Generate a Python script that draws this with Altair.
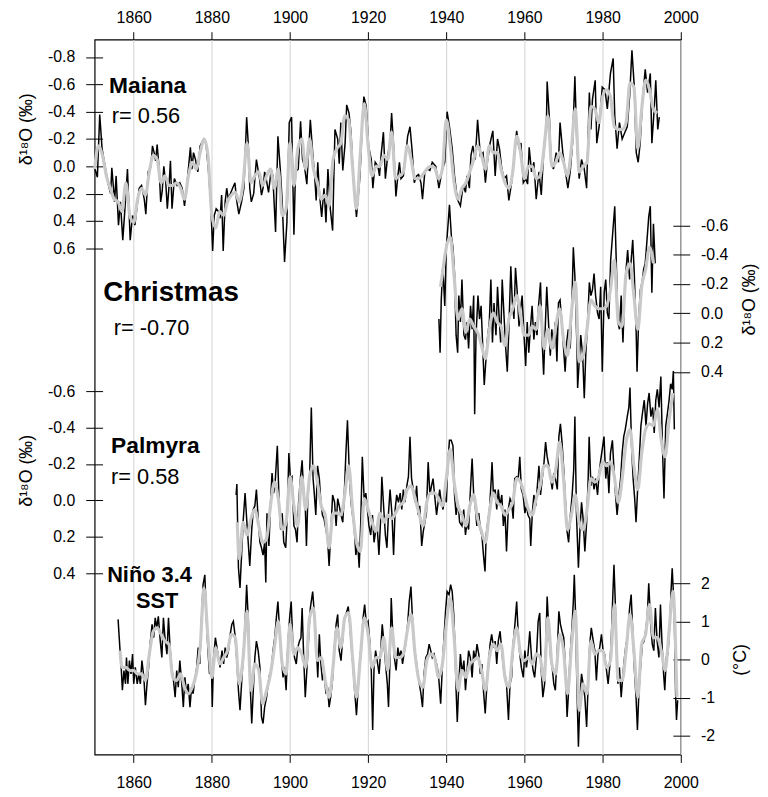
import altair as alt
import pandas as pd

# ---------------- data (year, value) ----------------
YEAR_TICKS = [1860, 1880, 1900, 1920, 1940, 1960, 1980, 2000]
D18O_TICKS_MAIANA = [-0.8, -0.6, -0.4, -0.2, 0.0, 0.2, 0.4, 0.6]
D18O_TICKS_CHRISTMAS = [-0.6, -0.4, -0.2, 0.0, 0.2, 0.4]
D18O_TICKS_PALMYRA = [-0.6, -0.4, -0.2, 0.0, 0.2, 0.4]
SST_TICKS = [2, 1, 0, -1, -2]

MAIANA_RAW = [
    (1850.0, 0.01), (1850.7, 0.08), (1851.3, -0.38), (1851.9, -0.13), (1852.5, -0.03), (1853.4, 0.12),
    (1854.1, 0.20), (1854.4, 0.01), (1855.1, 0.26), (1855.5, 0.07), (1856.1, 0.43), (1856.6, 0.26),
    (1857.2, 0.54), (1857.8, 0.29), (1858.4, 0.02), (1859.1, 0.54), (1859.7, 0.36), (1860.3, 0.43),
    (1861.4, 0.16), (1862.0, 0.14), (1862.7, 0.24), (1863.1, 0.35), (1863.7, 0.04), (1864.4, 0.00),
    (1864.8, -0.15), (1865.4, -0.08), (1865.6, -0.04), (1866.0, -0.16), (1866.5, 0.02), (1866.9, 0.26),
    (1867.3, 0.18), (1867.7, 0.00), (1868.2, 0.12), (1868.6, 0.31), (1869.0, 0.16), (1869.4, -0.04),
    (1869.8, 0.31), (1870.4, 0.09), (1871.1, 0.14), (1871.8, 0.12), (1872.4, 0.16), (1873.0, 0.29),
    (1873.6, 0.14), (1874.5, -0.14), (1874.9, 0.02), (1875.3, -0.10), (1875.8, -0.05), (1876.4, 0.04),
    (1877.0, -0.15), (1877.9, -0.20), (1878.5, -0.17), (1879.1, 0.02), (1879.7, 0.26), (1880.2, 0.62),
    (1880.6, 0.36), (1881.1, 0.31), (1881.7, 0.33), (1882.1, 0.38), (1882.5, 0.21), (1882.9, 0.62),
    (1883.4, 0.26), (1883.8, 0.16), (1884.2, 0.24), (1884.6, 0.21), (1885.3, 0.16), (1885.9, 0.12),
    (1886.3, 0.24), (1886.9, 0.35), (1887.6, 0.26), (1888.2, 0.16), (1888.9, -0.36), (1889.3, -0.17),
    (1889.7, 0.16), (1890.1, 0.26), (1890.7, 0.20), (1891.4, -0.05), (1891.8, 0.02), (1892.2, 0.09),
    (1892.7, 0.21), (1893.1, 0.16), (1893.5, 0.04), (1893.9, 0.09), (1894.5, 0.19), (1895.2, 0.02),
    (1895.6, 0.07), (1896.3, 0.48), (1896.9, -0.22), (1897.5, 0.02), (1898.0, 0.26), (1898.6, 0.70),
    (1899.2, 0.41), (1899.8, -0.32), (1900.4, -0.36), (1901.0, 0.50), (1901.4, 0.04), (1902.1, 0.02),
    (1902.7, -0.33), (1903.2, -0.05), (1903.7, 0.00), (1904.3, 0.13), (1905.2, -0.34), (1905.8, -0.10),
    (1906.3, 0.07), (1906.7, 0.25), (1907.1, -0.03), (1907.5, 0.19), (1908.1, 0.37), (1908.7, 0.16),
    (1909.2, 0.41), (1909.7, 0.02), (1910.3, 0.31), (1910.9, 0.47), (1911.5, -0.27), (1912.2, -0.20),
    (1912.6, -0.02), (1913.0, -0.32), (1913.5, 0.03), (1914.1, -0.17), (1914.5, -0.45), (1915.1, -0.39),
    (1915.6, -0.25), (1916.2, 0.09), (1917.0, 0.37), (1917.9, 0.07), (1918.5, -0.32), (1918.9, -0.51),
    (1919.5, -0.44), (1920.1, -0.15), (1920.8, -0.05), (1921.2, 0.16), (1921.8, -0.03), (1922.5, 0.00),
    (1922.9, 0.07), (1923.3, -0.08), (1923.9, -0.25), (1924.4, 0.09), (1925.0, -0.08), (1925.6, -0.17),
    (1926.0, -0.39), (1926.6, -0.10), (1927.1, 0.22), (1927.6, 0.07), (1928.0, -0.03), (1928.4, 0.09),
    (1929.0, 0.07), (1929.5, -0.05), (1930.1, -0.22), (1930.7, -0.29), (1931.2, -0.13), (1931.8, 0.12),
    (1932.4, 0.07), (1932.9, 0.06), (1933.5, 0.12), (1933.9, 0.24), (1934.5, 0.04), (1935.2, 0.02),
    (1935.8, 0.03), (1936.4, -0.03), (1937.3, 0.00), (1938.1, 0.16), (1939.0, 0.02), (1939.6, -0.03),
    (1940.2, -0.40), (1940.8, -0.29), (1941.5, -0.13), (1942.1, 0.07), (1942.8, 0.24), (1943.6, 0.29),
    (1944.3, 0.14), (1944.9, 0.19), (1945.3, 0.07), (1945.9, 0.16), (1946.3, -0.08), (1946.8, -0.15),
    (1947.4, -0.05), (1948.0, -0.34), (1948.7, -0.08), (1949.4, -0.10), (1950.0, 0.12), (1950.5, -0.03),
    (1951.2, -0.17), (1951.9, -0.26), (1952.5, 0.07), (1953.1, -0.20), (1953.6, -0.13), (1954.2, 0.02),
    (1954.8, 0.09), (1955.4, 0.07), (1956.0, 0.25), (1956.7, 0.12), (1957.3, -0.05), (1958.0, -0.26),
    (1958.6, -0.13), (1959.1, -0.17), (1959.7, 0.12), (1960.3, 0.09), (1960.8, 0.13), (1961.2, -0.14),
    (1961.8, 0.04), (1962.4, -0.03), (1963.0, 0.24), (1963.7, 0.04), (1964.3, 0.21), (1965.0, -0.15),
    (1965.6, -0.29), (1965.8, -0.62), (1966.4, -0.34), (1966.8, -0.03), (1967.4, 0.02), (1968.1, -0.10),
    (1968.7, -0.03), (1969.1, -0.32), (1969.8, -0.10), (1970.5, 0.04), (1971.1, 0.16), (1971.7, 0.04),
    (1972.3, -0.17), (1972.9, -0.66), (1973.4, -0.17), (1974.0, 0.09), (1974.6, -0.05), (1975.3, 0.02),
    (1975.9, 0.16), (1976.6, -0.54), (1977.0, -0.27), (1977.4, -0.49), (1978.1, -0.63), (1978.5, -0.17),
    (1979.1, -0.29), (1979.9, -0.58), (1980.6, -0.56), (1981.2, -0.42), (1982.0, -0.68), (1982.7, -0.79),
    (1983.1, -0.37), (1983.7, -0.13), (1984.3, -0.32), (1985.0, -0.20), (1985.7, -0.25), (1986.3, -0.29),
    (1986.9, -0.51), (1987.5, -0.85), (1988.1, -0.58), (1988.6, -0.10), (1989.1, -0.03), (1989.6, -0.17),
    (1990.2, -0.49), (1990.9, -0.71), (1991.5, -0.54), (1992.2, -0.68), (1992.6, -0.17), (1993.2, -0.42),
    (1993.6, -0.63), (1994.1, -0.27), (1994.5, -0.36),
]

MAIANA_SMOOTH = [
    (1850, 0.02), (1851, -0.15), (1852, -0.08), (1853, 0.07), (1854, 0.16), (1855, 0.24), (1856, 0.26),
    (1857, 0.33), (1858, 0.12), (1859, 0.36), (1860, 0.41), (1861, 0.24), (1862, 0.16), (1863, 0.21),
    (1864, 0.04), (1865, -0.08), (1866, -0.05), (1867, 0.12), (1868, 0.07), (1869, 0.14), (1870, 0.14),
    (1871, 0.12), (1872, 0.16), (1873, 0.24), (1874, 0.07), (1875, -0.03), (1876, 0.02), (1877, -0.10),
    (1878, -0.20), (1879, -0.08), (1880, 0.36), (1881, 0.45), (1882, 0.33), (1883, 0.36), (1884, 0.26),
    (1885, 0.21), (1886, 0.19), (1887, 0.26), (1888, 0.12), (1889, -0.17), (1890, 0.12), (1891, 0.07),
    (1892, 0.04), (1893, 0.14), (1894, 0.07), (1895, 0.02), (1896, 0.16), (1897, 0.02), (1898, 0.36),
    (1899, 0.31), (1900, -0.17), (1901, 0.14), (1902, -0.13), (1903, -0.20), (1904, 0.02), (1905, -0.20),
    (1906, 0.02), (1907, 0.12), (1908, 0.24), (1909, 0.21), (1910, 0.29), (1911, -0.05), (1912, -0.13),
    (1913, -0.17), (1914, -0.37), (1915, -0.34), (1916, 0.00), (1917, 0.31), (1918, -0.10), (1919, -0.46),
    (1920, -0.15), (1921, 0.07), (1922, 0.00), (1923, 0.00), (1924, -0.08), (1925, -0.05), (1926, -0.25),
    (1927, 0.09), (1928, 0.07), (1929, 0.04), (1930, -0.15), (1931, -0.05), (1932, 0.09), (1933, 0.09),
    (1934, 0.06), (1935, 0.02), (1936, 0.00), (1937, 0.01), (1938, 0.09), (1939, 0.02), (1940, -0.34),
    (1941, -0.15), (1942, 0.12), (1943, 0.24), (1944, 0.16), (1945, 0.12), (1946, 0.04), (1947, -0.05),
    (1948, -0.15), (1949, -0.08), (1950, 0.02), (1951, -0.15), (1952, -0.10), (1953, -0.10), (1954, 0.02),
    (1955, 0.12), (1956, 0.16), (1957, 0.04), (1958, -0.22), (1959, -0.10), (1960, 0.09), (1961, 0.00),
    (1962, 0.00), (1963, 0.09), (1964, 0.07), (1965, -0.13), (1966, -0.37), (1967, 0.00), (1968, -0.03),
    (1969, -0.10), (1970, -0.03), (1971, 0.07), (1972, -0.13), (1973, -0.42), (1974, 0.04), (1975, 0.00),
    (1976, -0.03), (1977, -0.44), (1978, -0.42), (1979, -0.32), (1980, -0.51), (1981, -0.56), (1982, -0.51),
    (1983, -0.29), (1984, -0.27), (1985, -0.27), (1986, -0.32), (1987, -0.61), (1988, -0.58), (1989, -0.13),
    (1990, -0.42), (1991, -0.63), (1992, -0.56), (1993, -0.42), (1994, -0.39),
]

CHRISTMAS_RAW = [
    (1938.1, 0.04), (1938.4, 0.27), (1938.7, -0.09), (1939.1, -0.32), (1939.6, -0.05), (1940.0, -0.45),
    (1940.4, -0.59), (1940.8, -0.74), (1941.3, -0.52), (1941.7, -0.45), (1942.1, -0.27), (1942.5, 0.15),
    (1942.9, 0.27), (1943.2, -0.12), (1943.6, 0.06), (1944.0, -0.23), (1944.5, 0.15), (1944.9, 0.18),
    (1945.3, 0.06), (1945.7, 0.24), (1946.2, -0.05), (1946.6, 0.11), (1947.0, -0.12), (1947.25, 0.69),
    (1947.6, 0.15), (1948.1, -0.12), (1948.5, 0.04), (1948.9, -0.05), (1949.3, 0.22), (1949.7, 0.49),
    (1950.1, 0.33), (1950.5, 0.18), (1951.0, 0.06), (1951.4, -0.23), (1951.8, 0.20), (1952.2, -0.07),
    (1952.7, 0.15), (1953.1, -0.18), (1953.5, 0.02), (1953.9, 0.20), (1954.3, -0.23), (1954.8, 0.04),
    (1955.2, 0.24), (1955.6, 0.40), (1956.0, 0.11), (1956.5, -0.32), (1956.9, -0.07), (1957.3, 0.04),
    (1957.7, -0.31), (1958.1, -0.16), (1958.6, 0.09), (1959.0, -0.03), (1959.4, -0.12), (1959.8, 0.11),
    (1960.3, 0.36), (1960.7, 0.06), (1961.1, 0.27), (1961.5, 0.11), (1961.95, -0.05), (1962.4, 0.18),
    (1962.8, 0.06), (1963.2, 0.15), (1963.6, -0.05), (1964.1, -0.21), (1964.5, 0.18), (1964.9, 0.42),
    (1965.3, 0.11), (1965.7, -0.18), (1966.2, 0.09), (1966.6, 0.29), (1967.0, 0.11), (1967.4, 0.24),
    (1967.9, 0.06), (1968.3, 0.33), (1968.7, -0.07), (1969.1, -0.09), (1969.5, 0.04), (1970.0, 0.24),
    (1970.4, 0.40), (1970.8, 0.20), (1971.2, 0.11), (1971.7, 0.24), (1972.1, -0.03), (1972.5, -0.45),
    (1972.9, -0.25), (1973.4, 0.20), (1973.6, 0.51), (1974.0, 0.33), (1974.4, 0.15), (1974.9, 0.29),
    (1975.3, 0.58), (1975.7, 0.27), (1976.1, 0.09), (1976.6, -0.21), (1977.0, -0.12), (1977.4, -0.16),
    (1977.8, -0.27), (1978.2, -0.12), (1978.7, 0.00), (1979.1, 0.04), (1979.5, -0.18), (1979.9, 0.40),
    (1980.4, -0.14), (1980.8, -0.23), (1981.2, 0.00), (1981.6, 0.04), (1982.05, -0.36), (1982.5, -0.52),
    (1983.1, -0.73), (1983.5, -0.34), (1983.9, 0.06), (1984.3, 0.11), (1984.75, -0.12), (1985.2, 0.20),
    (1985.6, -0.12), (1986.0, -0.30), (1986.4, -0.43), (1986.9, -0.23), (1987.3, -0.36), (1987.7, -0.50),
    (1988.1, -0.27), (1988.6, 0.15), (1988.8, 0.40), (1989.2, 0.06), (1989.65, -0.16), (1990.1, -0.21),
    (1990.5, -0.30), (1990.9, -0.34), (1991.3, -0.48), (1991.8, -0.66), (1992.2, -0.73), (1992.6, -0.14),
    (1993.0, -0.61), (1993.45, -0.34),
]

CHRISTMAS_SMOOTH = [
    (1938.5, -0.18), (1939, -0.27), (1940, -0.45), (1941, -0.52), (1942, -0.25), (1943, 0.04),
    (1944, -0.03), (1945, 0.13), (1946, 0.04), (1947, 0.09), (1948, 0.13), (1949, 0.22), (1950, 0.31),
    (1951, 0.11), (1952, 0.00), (1953, 0.06), (1954, 0.09), (1955, 0.22), (1956, 0.04), (1957, -0.03),
    (1958, -0.12), (1959, 0.02), (1960, 0.15), (1961, 0.15), (1962, 0.09), (1963, 0.11), (1964, -0.05),
    (1965, 0.24), (1966, 0.11), (1967, 0.24), (1968, 0.09), (1969, -0.03), (1970, 0.18), (1971, 0.29),
    (1972, 0.00), (1973, -0.21), (1974, 0.33), (1975, 0.29), (1976, 0.11), (1977, -0.09), (1978, -0.05),
    (1979, -0.03), (1980, -0.03), (1981, -0.05), (1982, -0.16), (1983, -0.36), (1984, 0.06), (1985, 0.09),
    (1986, -0.27), (1987, -0.34), (1988, -0.12), (1989, 0.11), (1990, -0.18), (1991, -0.30), (1992, -0.45),
    (1993, -0.34),
]

PALMYRA_RAW = [
    (1886.2, -0.03), (1886.4, -0.09), (1886.8, 0.37), (1887.2, 0.48), (1887.6, 0.30), (1888.05, 0.10),
    (1888.5, -0.04), (1888.9, 0.10), (1889.3, 0.23), (1889.7, 0.36), (1890.2, 0.16), (1890.6, 0.05),
    (1891.0, 0.03), (1891.4, -0.06), (1891.85, 0.10), (1892.3, 0.23), (1892.7, 0.26), (1893.1, 0.30),
    (1893.5, 0.23), (1893.8, 0.45), (1894.1, 0.07), (1894.6, 0.25), (1895.1, -0.03), (1895.4, -0.15),
    (1895.8, -0.04), (1896.2, -0.10), (1896.75, -0.30), (1897.2, 0.01), (1897.6, 0.16), (1898.0, 0.07),
    (1898.4, 0.23), (1898.9, 0.26), (1899.3, 0.08), (1899.7, -0.26), (1900.1, -0.12), (1900.5, -0.13),
    (1901.0, 0.14), (1901.4, 0.16), (1901.8, 0.23), (1902.2, 0.01), (1902.7, -0.13), (1903.1, -0.22),
    (1903.5, -0.03), (1903.9, 0.03), (1904.2, 0.25), (1904.6, -0.04), (1905.0, -0.12), (1905.45, -0.51),
    (1905.9, -0.12), (1906.2, -0.04), (1906.6, 0.08), (1907.05, -0.19), (1907.5, -0.12), (1907.9, 0.01),
    (1908.3, 0.08), (1908.7, 0.10), (1909.2, 0.16), (1909.6, 0.21), (1910.0, 0.36), (1910.4, 0.19),
    (1910.9, -0.03), (1911.4, 0.01), (1911.8, 0.14), (1912.2, -0.01), (1912.6, 0.03), (1913.05, 0.08),
    (1913.5, 0.12), (1913.9, -0.04), (1914.3, -0.26), (1914.7, -0.44), (1915.2, -0.13), (1915.6, 0.01),
    (1916.0, 0.08), (1916.4, 0.14), (1916.85, 0.30), (1917.3, 0.23), (1917.7, 0.37), (1918.1, 0.12),
    (1918.5, -0.24), (1919.0, 0.01), (1919.4, -0.04), (1919.8, 0.05), (1920.2, 0.14), (1920.65, 0.19),
    (1921.1, 0.08), (1921.5, 0.23), (1921.9, 0.17), (1922.3, 0.14), (1922.75, 0.30), (1923.2, 0.10),
    (1923.5, -0.13), (1924.0, 0.05), (1924.4, 0.19), (1924.8, 0.26), (1925.2, 0.07), (1925.6, -0.06),
    (1926.1, 0.08), (1926.5, 0.30), (1926.9, 0.05), (1927.3, -0.03), (1927.75, 0.01), (1928.2, -0.04),
    (1928.6, 0.05), (1929.0, -0.06), (1929.4, 0.01), (1929.9, -0.08), (1930.3, -0.13), (1930.7, -0.35),
    (1931.1, -0.12), (1931.55, -0.06), (1932.0, 0.01), (1932.4, -0.08), (1932.8, 0.08), (1933.2, 0.03),
    (1933.7, 0.25), (1934.1, 0.17), (1934.5, 0.12), (1934.9, 0.07), (1935.35, -0.21), (1935.8, -0.03),
    (1936.2, -0.08), (1936.6, -0.12), (1937.0, -0.03), (1937.5, 0.08), (1937.9, 0.01), (1938.3, -0.06),
    (1938.7, 0.01), (1939.15, 0.05), (1939.6, -0.03), (1940.0, 0.01), (1940.4, -0.21), (1940.8, -0.33),
    (1941.25, -0.33), (1941.7, -0.30), (1942.1, -0.03), (1942.5, 0.08), (1943.0, 0.01), (1943.4, 0.12),
    (1944.0, 0.14), (1944.45, 0.05), (1944.9, 0.19), (1945.3, 0.12), (1945.7, 0.16), (1946.1, -0.03),
    (1946.6, -0.23), (1947.0, -0.03), (1947.4, 0.03), (1947.8, 0.14), (1948.3, 0.07), (1948.7, 0.16),
    (1949.1, 0.19), (1949.5, 0.30), (1949.9, 0.39), (1950.2, 0.19), (1950.6, 0.12), (1951.05, 0.05),
    (1951.5, -0.12), (1951.7, -0.21), (1952.05, -0.03), (1952.5, -0.06), (1952.9, 0.05), (1953.3, -0.06),
    (1953.7, 0.03), (1954.2, -0.03), (1954.6, 0.14), (1955.0, 0.05), (1955.4, 0.28), (1955.85, 0.05),
    (1956.3, -0.01), (1956.7, 0.01), (1957.1, 0.10), (1957.5, -0.12), (1958.0, -0.13), (1958.4, -0.12),
    (1958.8, -0.24), (1959.2, -0.06), (1959.65, -0.03), (1960.1, 0.07), (1960.5, 0.03), (1960.9, 0.08),
    (1961.35, 0.10), (1961.6, 0.25), (1962.0, 0.07), (1962.4, -0.03), (1962.9, 0.03), (1963.3, -0.08),
    (1963.7, -0.19), (1964.1, -0.03), (1964.55, -0.12), (1965.0, -0.21), (1965.4, -0.32), (1965.8, -0.24),
    (1966.25, -0.19), (1966.7, -0.12), (1967.1, -0.06), (1967.5, -0.15), (1967.9, -0.12), (1968.4, -0.06),
    (1968.8, -0.35), (1969.2, -0.42), (1969.6, -0.32), (1970.05, -0.17), (1970.5, 0.01), (1970.9, 0.17),
    (1971.3, 0.23), (1971.75, 0.08), (1972.2, -0.03), (1972.6, -0.17), (1972.9, -0.46), (1973.3, 0.07),
    (1973.8, 0.37), (1974.2, 0.16), (1974.6, 0.01), (1975.0, 0.10), (1975.45, 0.28), (1975.9, 0.12),
    (1976.3, -0.12), (1976.55, -0.35), (1977.0, -0.08), (1977.4, -0.13), (1977.8, -0.06), (1978.2, -0.12),
    (1978.7, -0.03), (1979.1, -0.15), (1979.5, -0.22), (1979.9, -0.28), (1980.35, -0.35), (1980.8, -0.12),
    (1981.2, -0.21), (1981.6, -0.04), (1982.0, -0.26), (1982.5, -0.33), (1982.9, -0.17), (1983.3, -0.03),
    (1983.7, 0.08), (1984.15, -0.03), (1984.6, -0.12), (1985.0, -0.26), (1985.4, -0.35), (1985.8, -0.39),
    (1986.3, -0.46), (1986.7, -0.51), (1987.0, -0.62), (1987.4, -0.30), (1987.8, -0.12), (1988.2, -0.01),
    (1988.55, 0.12), (1989.0, -0.08), (1989.4, -0.24), (1989.8, -0.41), (1990.2, -0.48), (1990.65, -0.55),
    (1991.1, -0.41), (1991.5, -0.53), (1991.9, -0.59), (1992.35, -0.46), (1992.8, -0.51), (1993.2, -0.37),
    (1993.6, -0.55), (1994.0, -0.61), (1994.45, -0.51), (1994.9, -0.68), (1995.3, -0.30), (1995.7, -0.01),
    (1996.15, -0.41), (1996.6, -0.48), (1997.0, -0.55), (1997.4, -0.64), (1997.8, -0.61), (1998.1, -0.71),
    (1998.35, -0.39),
]

PALMYRA_SMOOTH = [
    (1886.5, 0.12), (1887, 0.32), (1888, 0.12), (1889, 0.19), (1890, 0.10), (1891, 0.05), (1892, 0.14),
    (1893, 0.23), (1894, 0.21), (1895, 0.03), (1896, -0.10), (1897, -0.01), (1898, 0.16), (1899, 0.12),
    (1900, -0.13), (1901, 0.03), (1902, 0.14), (1903, -0.13), (1904, 0.05), (1905, -0.13), (1906, -0.19),
    (1907, -0.10), (1908, 0.03), (1909, 0.08), (1910, 0.26), (1911, 0.07), (1912, 0.07), (1913, 0.08),
    (1914, -0.03), (1915, -0.19), (1916, 0.05), (1917, 0.23), (1918, 0.28), (1919, -0.01), (1920, 0.05),
    (1921, 0.12), (1922, 0.17), (1923, 0.07), (1924, 0.12), (1925, 0.08), (1926, 0.10), (1927, 0.07),
    (1928, 0.03), (1929, 0.01), (1930, -0.06), (1931, -0.08), (1932, -0.01), (1933, 0.07), (1934, 0.14),
    (1935, 0.01), (1936, -0.04), (1937, -0.04), (1938, -0.01), (1939, 0.03), (1940, -0.12), (1941, -0.28),
    (1942, -0.10), (1943, 0.03), (1944, 0.08), (1945, 0.14), (1946, 0.03), (1947, -0.03), (1948, 0.10),
    (1949, 0.17), (1950, 0.23), (1951, 0.07), (1952, -0.04), (1953, 0.01), (1954, 0.03), (1955, 0.08),
    (1956, 0.05), (1957, 0.01), (1958, -0.12), (1959, -0.10), (1960, -0.03), (1961, 0.05), (1962, 0.08),
    (1963, -0.01), (1964, -0.08), (1965, -0.19), (1966, -0.19), (1967, -0.10), (1968, -0.17), (1969, -0.32),
    (1970, -0.12), (1971, 0.16), (1972, 0.08), (1973, -0.03), (1974, 0.12), (1975, 0.16), (1976, 0.05),
    (1977, -0.12), (1978, -0.10), (1979, -0.13), (1980, -0.21), (1981, -0.19), (1982, -0.21), (1983, -0.13),
    (1984, 0.01), (1985, -0.12), (1986, -0.32), (1987, -0.39), (1988, -0.19), (1989, -0.06), (1990, -0.26),
    (1991, -0.39), (1992, -0.42), (1993, -0.41), (1994, -0.50), (1995, -0.33), (1996, -0.24), (1997, -0.44),
    (1998, -0.59),
]

NINO34_RAW = [
    (1856.0, 1.05), (1856.5, 0.23), (1856.8, -0.21), (1857.1, -0.81), (1857.5, -0.29), (1857.9, -0.64),
    (1858.15, 0.05), (1858.5, -0.64), (1858.9, -0.03), (1859.3, -0.38), (1859.7, 0.14), (1860.0, -0.64),
    (1860.4, -0.21), (1860.9, -0.64), (1861.3, -0.38), (1861.7, -0.64), (1862.1, -0.03), (1862.6, -0.47),
    (1863.0, -1.20), (1863.4, -0.64), (1863.8, -0.21), (1864.2, 0.40), (1864.7, 0.92), (1865.1, 0.57),
    (1865.5, 1.09), (1865.9, 0.83), (1866.3, 1.13), (1866.8, 0.48), (1867.2, 0.05), (1867.6, 1.09),
    (1868.0, 0.57), (1868.5, 0.14), (1868.9, 1.09), (1869.3, 0.31), (1869.7, -0.21), (1870.1, -0.47),
    (1870.6, -0.99), (1871.0, -0.29), (1871.4, -0.73), (1871.8, -0.03), (1872.3, -0.64), (1872.7, -1.25),
    (1873.1, -0.47), (1873.5, -0.90), (1873.95, -0.64), (1874.4, -1.25), (1874.8, -0.73), (1875.2, -0.90),
    (1875.6, -0.55), (1876.05, -0.29), (1876.5, 0.31), (1876.9, -0.12), (1877.3, 0.92), (1877.75, 1.96),
    (1878.2, 2.22), (1878.6, 1.09), (1879.0, 0.23), (1879.4, -0.38), (1879.9, -0.21), (1880.1, -1.25),
    (1880.45, 0.05), (1880.9, 0.57), (1881.3, 0.31), (1881.7, 0.05), (1882.1, -0.21), (1882.6, 0.23),
    (1883.0, -0.12), (1883.4, 0.31), (1883.8, 0.05), (1884.25, 0.23), (1884.7, 0.66), (1885.1, 0.92),
    (1885.5, 1.00), (1885.9, 0.66), (1886.4, -0.03), (1886.8, -0.81), (1887.2, -1.33), (1887.6, -0.64),
    (1888.05, 0.14), (1888.5, 0.92), (1888.9, 1.96), (1889.3, 1.09), (1889.7, -0.38), (1890.2, -1.68),
    (1890.6, -0.81), (1891.0, 0.05), (1891.4, 0.48), (1891.85, 0.23), (1892.3, -0.21), (1892.7, -1.51),
    (1893.1, -1.68), (1893.5, -1.25), (1894.0, -0.99), (1894.4, -0.64), (1894.8, -0.38), (1895.2, -0.29),
    (1895.65, 0.23), (1896.1, 0.57), (1896.5, 1.09), (1896.9, 1.52), (1897.3, 0.83), (1897.8, 0.05),
    (1898.2, -0.47), (1898.6, -0.21), (1899.0, -0.81), (1899.45, 0.40), (1899.9, 1.09), (1900.3, 1.52),
    (1900.7, 0.48), (1901.15, 0.05), (1901.6, -0.12), (1902.0, 0.31), (1902.4, 0.48), (1902.8, 0.57),
    (1903.1, 1.35), (1903.5, 0.05), (1903.9, -0.99), (1904.35, -0.21), (1904.8, 0.66), (1905.2, 1.35),
    (1905.8, 1.78), (1906.3, 1.09), (1906.7, 0.40), (1907.1, -0.47), (1907.5, 0.66), (1907.9, -0.12),
    (1908.3, -0.55), (1908.7, -0.29), (1909.2, -0.90), (1909.6, -0.73), (1910.0, -1.25), (1910.4, -0.99),
    (1910.85, -0.55), (1911.3, 0.23), (1911.8, 0.92), (1912.2, 1.18), (1912.6, 0.23), (1913.05, -0.03),
    (1913.5, 0.57), (1913.9, 1.09), (1914.3, 1.18), (1914.9, 1.39), (1915.3, 0.92), (1915.75, 0.31),
    (1916.2, -0.29), (1916.6, -0.90), (1917.0, -1.46), (1917.4, -0.81), (1917.9, 0.05), (1918.3, 0.40),
    (1918.7, 1.09), (1919.1, 1.44), (1919.55, 0.92), (1919.97, 1.00), (1920.4, 0.48), (1920.8, -0.29),
    (1921.15, -1.85), (1921.5, -0.21), (1921.9, 0.23), (1922.3, -0.03), (1922.8, -0.38), (1923.2, 0.23),
    (1923.6, 0.92), (1924.0, 0.48), (1924.45, -0.12), (1924.9, -0.64), (1925.2, -1.25), (1925.6, 0.05),
    (1925.9, 1.61), (1926.3, 0.66), (1926.7, 0.05), (1927.15, -0.29), (1927.6, 0.31), (1928.0, 0.05),
    (1928.4, 0.23), (1928.8, -0.12), (1929.3, 0.23), (1929.7, 0.48), (1930.1, 0.92), (1930.5, 1.52),
    (1930.95, 1.91), (1931.4, 0.92), (1931.8, 0.31), (1932.2, 0.05), (1932.6, -0.29), (1933.1, -0.64),
    (1933.5, -0.90), (1933.9, -1.25), (1934.3, -0.38), (1934.75, 0.05), (1935.2, 0.14), (1935.6, 0.40),
    (1936.0, 0.23), (1936.4, 0.05), (1936.85, 0.14), (1937.3, -0.03), (1937.7, -0.21), (1938.1, -0.55),
    (1938.55, -1.16), (1938.97, -0.21), (1939.4, 0.57), (1939.8, 1.26), (1940.2, 1.78), (1940.7, 1.70),
    (1941.1, 1.96), (1941.5, 1.78), (1941.9, 1.18), (1942.3, 0.05), (1942.5, -0.81), (1942.8, -1.64),
    (1943.2, -0.64), (1943.6, 0.14), (1944.05, -0.38), (1944.5, -0.03), (1944.9, -0.81), (1945.3, -0.29),
    (1945.7, 0.23), (1946.15, 0.05), (1946.6, -0.47), (1947.0, 0.23), (1947.4, -0.03), (1947.85, 0.40),
    (1948.3, 0.14), (1948.7, -0.38), (1949.1, -0.12), (1949.5, -0.81), (1949.95, -1.42), (1950.4, -0.64),
    (1950.8, -0.12), (1951.2, 0.40), (1951.6, 0.66), (1952.1, 0.31), (1952.5, 0.48), (1952.9, -0.12),
    (1953.3, 0.48), (1953.75, 0.74), (1954.2, 0.23), (1954.6, -0.21), (1955.0, -0.38), (1955.4, -0.64),
    (1955.9, -1.59), (1956.3, -0.64), (1956.7, -0.47), (1957.1, 0.40), (1957.55, 0.92), (1958.0, 1.52),
    (1958.4, 0.66), (1958.8, 0.14), (1959.2, -0.21), (1959.7, -0.47), (1960.1, 0.23), (1960.5, -0.21),
    (1960.9, 0.14), (1961.35, 0.74), (1961.8, 0.05), (1962.2, -0.29), (1962.6, -0.47), (1963.05, 0.05),
    (1963.5, 1.00), (1963.9, 1.22), (1964.3, -0.29), (1964.7, -0.99), (1965.15, -0.64), (1965.6, 0.92),
    (1965.8, 1.65), (1966.25, 0.74), (1966.7, 0.05), (1967.1, -0.21), (1967.5, -0.64), (1967.9, -0.81),
    (1968.4, 0.23), (1968.8, 1.26), (1969.2, 0.92), (1969.6, 0.74), (1970.05, 0.57), (1970.5, -0.29),
    (1970.9, -1.51), (1971.2, -0.99), (1971.65, 0.05), (1972.1, 0.74), (1972.5, 1.52), (1972.75, 2.22),
    (1973.1, 1.09), (1973.4, -0.64), (1973.8, -2.29), (1974.2, -0.99), (1974.6, -0.38), (1975.0, -0.64),
    (1975.45, -0.99), (1975.9, -1.77), (1976.3, -0.64), (1976.7, 0.40), (1977.1, 0.83), (1977.6, 0.48),
    (1978.0, 0.23), (1978.4, -0.55), (1978.8, 0.14), (1979.25, 0.31), (1979.7, 0.66), (1980.1, 0.23),
    (1980.5, 0.14), (1980.9, -0.21), (1981.4, -0.64), (1981.8, -0.21), (1982.2, 0.48), (1982.55, 1.52),
    (1982.9, 2.48), (1983.2, 1.61), (1983.6, 0.05), (1983.9, -0.64), (1984.3, -0.21), (1984.75, -0.99),
    (1985.2, -0.38), (1985.6, 0.05), (1986.0, 0.40), (1986.4, 0.57), (1986.9, 1.35), (1987.3, 1.70),
    (1987.7, 0.74), (1988.1, -0.21), (1988.55, -0.99), (1988.9, -1.85), (1989.3, -0.81), (1989.7, -0.21),
    (1990.15, 0.40), (1990.6, 0.48), (1991.0, 0.74), (1991.4, 1.09), (1991.8, 2.00), (1992.3, 0.92),
    (1992.7, 0.40), (1993.1, 0.23), (1993.5, 1.35), (1993.95, 0.48), (1994.4, 0.05), (1994.8, 1.44),
    (1995.2, 0.40), (1995.6, -0.38), (1995.9, -0.81), (1996.3, 0.05), (1996.7, 0.14), (1997.2, 0.92),
    (1997.5, 1.78), (1997.8, 2.39), (1998.3, 1.35), (1998.7, -0.99), (1998.9, -1.59), (1999.2, -1.07),
]

NINO34_SMOOTH = [
    (1856.5, 0.23), (1857, -0.21), (1858, -0.21), (1859, -0.29), (1860, -0.29), (1861, -0.38), (1862, -0.38),
    (1863, -0.55), (1864, 0.14), (1865, 0.74), (1866, 0.83), (1867, 0.66), (1868, 0.48), (1869, 0.40),
    (1870, -0.47), (1871, -0.55), (1872, -0.38), (1873, -0.73), (1874, -0.90), (1875, -0.73), (1876, -0.38),
    (1877, 0.31), (1878, 1.87), (1879, 0.57), (1880, -0.47), (1881, 0.31), (1882, -0.12), (1883, 0.05),
    (1884, 0.23), (1885, 0.66), (1886, 0.57), (1887, -0.64), (1888, 0.05), (1889, 1.26), (1890, -0.81),
    (1891, -0.12), (1892, -0.29), (1893, -1.16), (1894, -0.81), (1895, -0.38), (1896, 0.31), (1897, 1.00),
    (1898, -0.12), (1899, -0.38), (1900, 0.92), (1901, 0.14), (1902, 0.31), (1903, 0.14), (1904, -0.21),
    (1905, 1.09), (1906, 1.35), (1907, -0.03), (1908, 0.05), (1909, -0.55), (1910, -0.99), (1911, -0.21),
    (1912, 0.83), (1913, 0.31), (1914, 1.09), (1915, 1.22), (1916, 0.05), (1917, -0.99), (1918, 0.05),
    (1919, 1.09), (1920, 0.66), (1921, -0.21), (1922, 0.05), (1923, 0.05), (1924, 0.57), (1925, -0.29),
    (1926, 0.83), (1927, 0.05), (1928, 0.05), (1929, 0.14), (1930, 0.74), (1931, 1.18), (1932, 0.14),
    (1933, -0.55), (1934, -0.73), (1935, -0.03), (1936, 0.14), (1937, 0.05), (1938, -0.47), (1939, -0.12),
    (1940, 0.92), (1941, 1.61), (1942, 0.57), (1943, -0.81), (1944, -0.29), (1945, -0.47), (1946, -0.12),
    (1947, -0.03), (1948, 0.05), (1949, -0.29), (1950, -0.81), (1951, 0.05), (1952, 0.40), (1953, 0.23),
    (1954, 0.40), (1955, -0.47), (1956, -0.73), (1957, 0.23), (1958, 0.83), (1959, 0.14), (1960, -0.03),
    (1961, 0.05), (1962, -0.12), (1963, 0.14), (1964, 0.05), (1965, -0.55), (1966, 1.09), (1967, -0.12),
    (1968, -0.38), (1969, 0.66), (1970, 0.23), (1971, -0.90), (1972, 0.31), (1973, 1.26), (1974, -1.33),
    (1975, -0.64), (1976, -0.90), (1977, 0.48), (1978, 0.14), (1979, 0.23), (1980, 0.23), (1981, -0.21),
    (1982, -0.03), (1983, 1.44), (1984, -0.55), (1985, -0.55), (1986, 0.23), (1987, 1.18), (1988, 0.23),
    (1989, -0.99), (1990, 0.40), (1991, 0.66), (1992, 1.44), (1993, 0.57), (1994, 0.57), (1995, 0.23),
    (1996, -0.29), (1997, 0.74), (1998, 1.78), (1999, -0.99),
]

# panel annotations: (year, value, text, weight, size)
MAIANA_LABELS = [(1853.7, -0.59, "Maiana", "bold", 23), (1854.4, -0.37, "r= 0.56", "normal", 22)]
CHRISTMAS_LABELS = [(1852.2, -0.14, "Christmas", "bold", 28), (1854.9, 0.10, "r= -0.70", "normal", 22)]
PALMYRA_LABELS = [(1854.2, -0.30, "Palmyra", "bold", 23), (1854.2, -0.13, "r=  0.58", "normal", 22)]
NINO_LABELS = [(1853.2, 2.20, "Niño 3.4", "bold", 22), (1860.6, 1.54, "SST", "bold", 22)]

# ---------------- layout (pixels) ----------------
FONT = "Liberation Sans"
W = 592
TOP = 36          # page y of the plot-area top
H = 722           # plot-area height
PAD_LEFT = 87.5
PAD_TOP = TOP - 8
RIGHT_EDGE = 8 + PAD_LEFT + W


def rev_domain(zero_px, px_per_unit):
    """domain for a reversed axis (negative values up) given page y of value 0."""
    return [(TOP - zero_px) / px_per_unit, (TOP + H - zero_px) / px_per_unit]


def up_domain(zero_px, px_per_unit):
    return [(zero_px - (TOP + H)) / px_per_unit, (zero_px - TOP) / px_per_unit]


x_scale = alt.Scale(domain=[1850, 2000], nice=False, zero=False)


def y_axis(orient, values, fmt, title, tx, ty):
    return alt.Axis(
        orient=orient, values=values, title=title, titleX=tx, titleY=ty,
        titleAngle=270, titleAlign="center", titleBaseline="middle",
        titleFont=FONT, titleFontSize=18, titleFontWeight="normal", titleColor="black",
        labelExpr=f"(datum.value < 0 ? '-' : '') + format(abs(datum.value), '{fmt}')",
        domain=False, grid=False, tickSize=9, tickColor="black", tickWidth=1,
        labelPadding=11, labelFont=FONT, labelFontSize=16, labelColor="black",
        labelFlush=False, labelOverlap=False,
    )


def inner_axis(orient, values):
    # same scale drawn from the opposite side, moved onto the frame: ticks pointing inward
    return alt.Axis(
        orient=orient, values=values, title=None, labels=False, domain=False, grid=False,
        tickSize=8, tickColor="black", tickWidth=1, offset=-W,
    )


def x_axis(orient, grid, pad):
    return alt.Axis(
        orient=orient, values=YEAR_TICKS, format="d", title=None, domain=False,
        grid=grid, gridColor="#d9d9d9", gridWidth=1.2,
        tickSize=8, tickColor="black", labelPadding=pad, labelFont=FONT, labelFontSize=16,
        labelColor="black", labelFlush=False, labelOverlap=False,
    )


def panel(raw, smooth, labels, y_scale, yax, xax):
    x = alt.X("year:Q", scale=x_scale, axis=xax)
    y = alt.Y("value:Q", scale=y_scale, axis=yax)
    df_raw = pd.DataFrame(raw, columns=["year", "value"])
    df_smooth = pd.DataFrame(smooth, columns=["year", "value"])
    raw_line = alt.Chart(df_raw).mark_line(color="black", strokeWidth=1.5).encode(x=x, y=y)
    smooth_line = alt.Chart(df_smooth).mark_line(
        color="#c9c9c9", strokeWidth=3.2, interpolate="monotone").encode(x=x, y=y)
    layers = [raw_line, smooth_line]
    for (yr, val, txt, weight, size) in labels:
        df_t = pd.DataFrame([{"year": yr, "value": val, "text": txt}])
        layers.append(
            alt.Chart(df_t).mark_text(
                align="left", baseline="middle", font=FONT, fontWeight=weight,
                fontSize=size, color="black").encode(x=x, y=y, text="text:N"))
    return alt.layer(*layers)


def inner_ticks(raw, y_scale, orient, values):
    df_raw = pd.DataFrame(raw, columns=["year", "value"])
    return alt.Chart(df_raw).mark_line(opacity=0).encode(
        x=alt.X("year:Q", scale=x_scale, axis=None),
        y=alt.Y("value:Q", scale=y_scale, axis=inner_axis(orient, values)),
    )


sc_maiana = alt.Scale(domain=rev_domain(164, 138), reverse=True, nice=False, zero=False)
sc_christmas = alt.Scale(domain=rev_domain(312.3, 148), reverse=True, nice=False, zero=False)
sc_palmyra = alt.Scale(domain=rev_domain(501.4, 184), reverse=True, nice=False, zero=False)
sc_nino = alt.Scale(domain=up_domain(662, 38.5), nice=False, zero=False)

maiana = panel(
    MAIANA_RAW, MAIANA_SMOOTH, MAIANA_LABELS, sc_maiana,
    y_axis("left", D18O_TICKS_MAIANA, ".1f", "δ¹⁸O (‰)", 27 - 95.5, 126 - TOP),
    x_axis("top", False, 6),
)
christmas = panel(
    CHRISTMAS_RAW, CHRISTMAS_SMOOTH, CHRISTMAS_LABELS, sc_christmas,
    y_axis("right", D18O_TICKS_CHRISTMAS, ".1f", "δ¹⁸O (‰)", 757 - RIGHT_EDGE, 298 - TOP),
    None,
)
palmyra = panel(
    PALMYRA_RAW, PALMYRA_SMOOTH, PALMYRA_LABELS, sc_palmyra,
    y_axis("left", D18O_TICKS_PALMYRA, ".1f", "δ¹⁸O (‰)", 27 - 95.5, 471 - TOP),
    None,
)
nino = panel(
    NINO34_RAW, NINO34_SMOOTH, NINO_LABELS, sc_nino,
    y_axis("right", SST_TICKS, "d", "(°C)", 748 - RIGHT_EDGE, 662 - TOP),
    x_axis("bottom", True, 12),
)

chart = (
    alt.layer(
        maiana, christmas, palmyra, nino,
        inner_ticks(MAIANA_RAW, sc_maiana, "right", D18O_TICKS_MAIANA),
        inner_ticks(CHRISTMAS_RAW, sc_christmas, "left", D18O_TICKS_CHRISTMAS),
        inner_ticks(PALMYRA_RAW, sc_palmyra, "right", D18O_TICKS_PALMYRA),
        inner_ticks(NINO34_RAW, sc_nino, "left", SST_TICKS),
    )
    .resolve_scale(y="independent")
    .resolve_axis(y="independent", x="independent")
    .properties(
        width=W, height=H,
        autosize=alt.AutoSizeParams(type="none"),
        padding={"left": PAD_LEFT, "top": PAD_TOP, "right": 80, "bottom": 38},
        background="white",
    )
    .configure_view(stroke="black", strokeWidth=1.2)
)

chart.save("out.html", embed_options={"renderer": "svg", "actions": False})
